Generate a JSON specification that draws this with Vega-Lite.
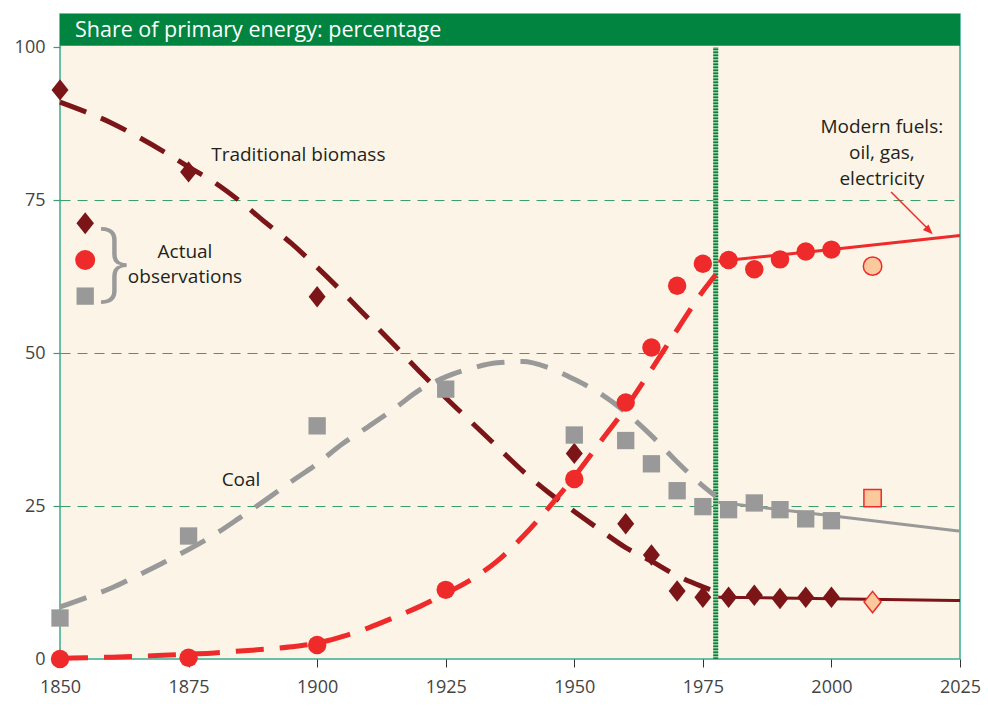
{
  "$schema": "https://vega.github.io/schema/vega-lite/v6.json",
  "width": 900,
  "height": 645,
  "autosize": {"type": "none"},
  "padding": {"left": 60, "top": 14, "right": 28, "bottom": 47},
  "background": "#ffffff",
  "view": {"fill": "#fcf5e7", "stroke": "#36ad93", "strokeWidth": 1.5},
  "config": {"font": "Open Sans", "text": {"font": "Open Sans", "color": "#231f20"}},
  "datasets": {
    "one": [{}],
    "obs": [
      {"series": "biomass", "year": 1850, "value": 93.0},
      {"series": "biomass", "year": 1875, "value": 79.6},
      {"series": "biomass", "year": 1900, "value": 59.2},
      {"series": "biomass", "year": 1950, "value": 33.6},
      {"series": "biomass", "year": 1960, "value": 22.1},
      {"series": "biomass", "year": 1965, "value": 17.0},
      {"series": "biomass", "year": 1970, "value": 11.1},
      {"series": "biomass", "year": 1975, "value": 10.1},
      {"series": "biomass", "year": 1980, "value": 10.1},
      {"series": "biomass", "year": 1985, "value": 10.4},
      {"series": "biomass", "year": 1990, "value": 9.9},
      {"series": "biomass", "year": 1995, "value": 10.1},
      {"series": "biomass", "year": 2000, "value": 10.1},
      {"series": "coal", "year": 1850, "value": 6.7},
      {"series": "coal", "year": 1875, "value": 20.1},
      {"series": "coal", "year": 1900, "value": 38.1},
      {"series": "coal", "year": 1925, "value": 44.1},
      {"series": "coal", "year": 1950, "value": 36.6},
      {"series": "coal", "year": 1960, "value": 35.7},
      {"series": "coal", "year": 1965, "value": 31.9},
      {"series": "coal", "year": 1970, "value": 27.5},
      {"series": "coal", "year": 1975, "value": 24.9},
      {"series": "coal", "year": 1980, "value": 24.4},
      {"series": "coal", "year": 1985, "value": 25.5},
      {"series": "coal", "year": 1990, "value": 24.4},
      {"series": "coal", "year": 1995, "value": 22.9},
      {"series": "coal", "year": 2000, "value": 22.6},
      {"series": "modern", "year": 1850, "value": 0.0},
      {"series": "modern", "year": 1875, "value": 0.2},
      {"series": "modern", "year": 1900, "value": 2.3},
      {"series": "modern", "year": 1925, "value": 11.3},
      {"series": "modern", "year": 1950, "value": 29.4},
      {"series": "modern", "year": 1960, "value": 41.9},
      {"series": "modern", "year": 1965, "value": 50.9},
      {"series": "modern", "year": 1970, "value": 61.0},
      {"series": "modern", "year": 1975, "value": 64.6},
      {"series": "modern", "year": 1980, "value": 65.2},
      {"series": "modern", "year": 1985, "value": 63.7},
      {"series": "modern", "year": 1990, "value": 65.3},
      {"series": "modern", "year": 1995, "value": 66.6},
      {"series": "modern", "year": 2000, "value": 66.9}
    ],
    "proj": [
      {"series": "biomass", "year": 2008, "value": 9.3},
      {"series": "coal", "year": 2008, "value": 26.3},
      {"series": "modern", "year": 2008, "value": 64.2}
    ],
    "fit": [
      {"series": "biomass", "part": "dash", "year": 1850, "value": 91.0},
      {"series": "biomass", "part": "dash", "year": 1855, "value": 89.4},
      {"series": "biomass", "part": "dash", "year": 1860, "value": 87.6},
      {"series": "biomass", "part": "dash", "year": 1865, "value": 85.4},
      {"series": "biomass", "part": "dash", "year": 1870, "value": 83.0},
      {"series": "biomass", "part": "dash", "year": 1875, "value": 80.4},
      {"series": "biomass", "part": "dash", "year": 1880, "value": 77.9},
      {"series": "biomass", "part": "dash", "year": 1885, "value": 74.8},
      {"series": "biomass", "part": "dash", "year": 1890, "value": 71.3},
      {"series": "biomass", "part": "dash", "year": 1895, "value": 67.9},
      {"series": "biomass", "part": "dash", "year": 1900, "value": 64.0},
      {"series": "biomass", "part": "dash", "year": 1905, "value": 59.9},
      {"series": "biomass", "part": "dash", "year": 1910, "value": 55.6},
      {"series": "biomass", "part": "dash", "year": 1915, "value": 51.3},
      {"series": "biomass", "part": "dash", "year": 1920, "value": 46.9},
      {"series": "biomass", "part": "dash", "year": 1925, "value": 42.7},
      {"series": "biomass", "part": "dash", "year": 1930, "value": 38.7},
      {"series": "biomass", "part": "dash", "year": 1935, "value": 34.7},
      {"series": "biomass", "part": "dash", "year": 1940, "value": 30.7},
      {"series": "biomass", "part": "dash", "year": 1945, "value": 27.2},
      {"series": "biomass", "part": "dash", "year": 1950, "value": 24.1},
      {"series": "biomass", "part": "dash", "year": 1955, "value": 21.1},
      {"series": "biomass", "part": "dash", "year": 1960, "value": 18.2},
      {"series": "biomass", "part": "dash", "year": 1965, "value": 16.0},
      {"series": "biomass", "part": "dash", "year": 1970, "value": 13.6},
      {"series": "biomass", "part": "dash", "year": 1975, "value": 11.8},
      {"series": "biomass", "part": "dash", "year": 1977.5, "value": 11.0},
      {"series": "biomass", "part": "solid", "year": 1978, "value": 10.1},
      {"series": "biomass", "part": "solid", "year": 2000, "value": 9.85},
      {"series": "biomass", "part": "solid", "year": 2025, "value": 9.55},
      {"series": "coal", "part": "dash", "year": 1850, "value": 8.5},
      {"series": "coal", "part": "dash", "year": 1855, "value": 10.0},
      {"series": "coal", "part": "dash", "year": 1860, "value": 11.6},
      {"series": "coal", "part": "dash", "year": 1865, "value": 13.6},
      {"series": "coal", "part": "dash", "year": 1870, "value": 15.7},
      {"series": "coal", "part": "dash", "year": 1875, "value": 17.9},
      {"series": "coal", "part": "dash", "year": 1880, "value": 20.3},
      {"series": "coal", "part": "dash", "year": 1885, "value": 23.1},
      {"series": "coal", "part": "dash", "year": 1890, "value": 26.0},
      {"series": "coal", "part": "dash", "year": 1895, "value": 29.0},
      {"series": "coal", "part": "dash", "year": 1900, "value": 31.9},
      {"series": "coal", "part": "dash", "year": 1905, "value": 35.2},
      {"series": "coal", "part": "dash", "year": 1910, "value": 38.0},
      {"series": "coal", "part": "dash", "year": 1915, "value": 40.9},
      {"series": "coal", "part": "dash", "year": 1920, "value": 44.0},
      {"series": "coal", "part": "dash", "year": 1925, "value": 46.1},
      {"series": "coal", "part": "dash", "year": 1930, "value": 47.5},
      {"series": "coal", "part": "dash", "year": 1935, "value": 48.4},
      {"series": "coal", "part": "dash", "year": 1940, "value": 48.6},
      {"series": "coal", "part": "dash", "year": 1945, "value": 47.6},
      {"series": "coal", "part": "dash", "year": 1950, "value": 45.7},
      {"series": "coal", "part": "dash", "year": 1955, "value": 43.4},
      {"series": "coal", "part": "dash", "year": 1960, "value": 40.3},
      {"series": "coal", "part": "dash", "year": 1965, "value": 36.5},
      {"series": "coal", "part": "dash", "year": 1970, "value": 32.2},
      {"series": "coal", "part": "dash", "year": 1975, "value": 28.3},
      {"series": "coal", "part": "dash", "year": 1977.5, "value": 26.6},
      {"series": "coal", "part": "solid", "year": 1978, "value": 25.6},
      {"series": "coal", "part": "solid", "year": 2000, "value": 23.4},
      {"series": "coal", "part": "solid", "year": 2025, "value": 20.9},
      {"series": "modern", "part": "dash", "year": 1850, "value": 0.1},
      {"series": "modern", "part": "dash", "year": 1855, "value": 0.2},
      {"series": "modern", "part": "dash", "year": 1860, "value": 0.3},
      {"series": "modern", "part": "dash", "year": 1865, "value": 0.45},
      {"series": "modern", "part": "dash", "year": 1870, "value": 0.6},
      {"series": "modern", "part": "dash", "year": 1875, "value": 0.8},
      {"series": "modern", "part": "dash", "year": 1880, "value": 1.0},
      {"series": "modern", "part": "dash", "year": 1885, "value": 1.3},
      {"series": "modern", "part": "dash", "year": 1890, "value": 1.6},
      {"series": "modern", "part": "dash", "year": 1895, "value": 2.0},
      {"series": "modern", "part": "dash", "year": 1900, "value": 2.6},
      {"series": "modern", "part": "dash", "year": 1905, "value": 3.7},
      {"series": "modern", "part": "dash", "year": 1910, "value": 5.1},
      {"series": "modern", "part": "dash", "year": 1915, "value": 6.8},
      {"series": "modern", "part": "dash", "year": 1920, "value": 8.6},
      {"series": "modern", "part": "dash", "year": 1925, "value": 10.7},
      {"series": "modern", "part": "dash", "year": 1930, "value": 13.0},
      {"series": "modern", "part": "dash", "year": 1935, "value": 16.0},
      {"series": "modern", "part": "dash", "year": 1940, "value": 20.0},
      {"series": "modern", "part": "dash", "year": 1945, "value": 24.7},
      {"series": "modern", "part": "dash", "year": 1950, "value": 29.8},
      {"series": "modern", "part": "dash", "year": 1955, "value": 35.4},
      {"series": "modern", "part": "dash", "year": 1960, "value": 41.0},
      {"series": "modern", "part": "dash", "year": 1965, "value": 47.3},
      {"series": "modern", "part": "dash", "year": 1970, "value": 53.8},
      {"series": "modern", "part": "dash", "year": 1975, "value": 60.1},
      {"series": "modern", "part": "dash", "year": 1977.5, "value": 62.8},
      {"series": "modern", "part": "solid", "year": 1978, "value": 65.0},
      {"series": "modern", "part": "solid", "year": 2000, "value": 66.9},
      {"series": "modern", "part": "solid", "year": 2025, "value": 69.2}
    ]
  },
  "encoding": {
    "x": {
      "type": "quantitative",
      "scale": {"domain": [1850, 2025], "nice": false, "zero": false},
      "axis": {
        "title": null, "values": [1850, 1875, 1900, 1925, 1950, 1975, 2000, 2025],
        "format": "d", "grid": false, "domain": false, "labelFlush": false, "labelOverlap": false,
        "tickColor": "#333333", "tickSize": 8, "tickWidth": 1,
        "labelFont": "Open Sans", "labelFontSize": 18, "labelColor": "#444444", "labelPadding": 11
      }
    },
    "y": {
      "type": "quantitative",
      "scale": {"domain": [0, 105.4], "nice": false},
      "axis": {
        "title": null, "values": [0, 25, 50, 75, 100], "domain": false,
        "grid": true, "gridColor": "#3aa06a", "gridDash": [10, 7], "gridWidth": 1.2,
        "gridOpacity": {"condition": {"test": "datum.value == 0 || datum.value == 100", "value": 0}, "value": 1},
        "tickColor": "#3aa06a", "tickSize": 7, "tickWidth": 1.2,
        "labelFont": "Open Sans", "labelFontSize": 18, "labelColor": "#444444", "labelPadding": 8
      }
    }
  },
  "layer": [
    {
      "data": {"name": "one"},
      "mark": {"type": "rect", "color": "#00843f"},
      "encoding": {"x": {"datum": 1850}, "x2": {"datum": 2025}, "y": {"datum": 100.2}, "y2": {"datum": 105.4}}
    },
    {
      "data": {"name": "one"},
      "mark": {"type": "text", "text": "Share of primary energy: percentage", "align": "left", "baseline": "middle", "dx": 15, "fontSize": 21.5, "color": "#ffffff"},
      "encoding": {"x": {"datum": 1850}, "y": {"datum": 102.65}}
    },
    {
      "data": {"name": "one"},
      "mark": {"type": "rule", "color": "#8fd09f", "strokeWidth": 5},
      "encoding": {"x": {"datum": 1977.5}, "y": {"datum": 0}, "y2": {"datum": 100}}
    },
    {
      "data": {"name": "one"},
      "mark": {"type": "rule", "color": "#0f7d3c", "strokeWidth": 5, "strokeDash": [1.5, 1.5]},
      "encoding": {"x": {"datum": 1977.5}, "y": {"datum": 0}, "y2": {"datum": 100}}
    },
    {
      "data": {"name": "fit"},
      "transform": [{"filter": "datum.part == 'dash'"}],
      "mark": {"type": "line", "strokeWidth": 5, "strokeDash": [28, 16], "interpolate": "monotone"},
      "encoding": {
        "x": {"field": "year", "type": "quantitative"},
        "y": {"field": "value", "type": "quantitative"},
        "color": {"field": "series", "type": "nominal", "legend": null,
          "scale": {"domain": ["coal", "biomass", "modern"], "range": ["#999999", "#7b1518", "#ee2a2a"]}}
      }
    },
    {
      "data": {"name": "fit"},
      "transform": [{"filter": "datum.part == 'solid'"}],
      "mark": {"type": "line", "strokeWidth": 3, "interpolate": "monotone"},
      "encoding": {
        "x": {"field": "year", "type": "quantitative"},
        "y": {"field": "value", "type": "quantitative"},
        "color": {"field": "series", "type": "nominal", "legend": null,
          "scale": {"domain": ["coal", "biomass", "modern"], "range": ["#999999", "#7b1518", "#ee2a2a"]}}
      }
    },
    {
      "data": {"name": "obs"},
      "mark": {"type": "point", "filled": true, "opacity": 1},
      "encoding": {
        "x": {"field": "year", "type": "quantitative"},
        "y": {"field": "value", "type": "quantitative"},
        "color": {"field": "series", "type": "nominal", "legend": null,
          "scale": {"domain": ["coal", "biomass", "modern"], "range": ["#999999", "#7b1518", "#ee2a2a"]}},
        "shape": {"field": "series", "type": "nominal", "legend": null,
          "scale": {"domain": ["coal", "biomass", "modern"], "range": ["square", "M0,-1.2L0.95,0L0,1.2L-0.95,0Z", "circle"]}},
        "size": {"field": "series", "type": "nominal", "legend": null,
          "scale": {"domain": ["coal", "biomass", "modern"], "range": [300, 340, 420]}}
      }
    },
    {
      "data": {"name": "proj"},
      "mark": {"type": "point", "filled": true, "opacity": 1, "fill": "#fcc99c", "stroke": "#ee2a2a", "strokeWidth": 1.5},
      "encoding": {
        "x": {"field": "year", "type": "quantitative"},
        "y": {"field": "value", "type": "quantitative"},
        "shape": {"field": "series", "type": "nominal", "legend": null,
          "scale": {"domain": ["coal", "biomass", "modern"], "range": ["square", "M0,-1.5L0.95,0L0,1.5L-0.95,0Z", "circle"]}},
        "size": {"field": "series", "type": "nominal", "legend": null,
          "scale": {"domain": ["coal", "biomass", "modern"], "range": [300, 320, 380]}}
      }
    },
    {
      "data": {"name": "one"},
      "mark": {"type": "point", "filled": true, "opacity": 1, "color": "#7b1518", "shape": "M0,-1.2L0.95,0L0,1.2L-0.95,0Z", "size": 340},
      "encoding": {"x": {"datum": 1854.9}, "y": {"datum": 71.2}}
    },
    {
      "data": {"name": "one"},
      "mark": {"type": "point", "filled": true, "opacity": 1, "color": "#ee2a2a", "shape": "circle", "size": 400},
      "encoding": {"x": {"datum": 1854.9}, "y": {"datum": 65.2}}
    },
    {
      "data": {"name": "one"},
      "mark": {"type": "point", "filled": true, "opacity": 1, "color": "#999999", "shape": "square", "size": 300},
      "encoding": {"x": {"datum": 1854.9}, "y": {"datum": 59.3}}
    },
    {
      "data": {"name": "one"},
      "mark": {"type": "text", "text": "}", "align": "center", "baseline": "middle", "fontSize": 88, "fontWeight": 300, "color": "#9a9a9a"},
      "encoding": {"x": {"datum": 1860.4}, "y": {"datum": 64.6}}
    },
    {
      "data": {"name": "one"},
      "mark": {"type": "text", "text": ["Actual", "observations"], "align": "center", "baseline": "middle", "fontSize": 19, "lineHeight": 25},
      "encoding": {"x": {"datum": 1874.3}, "y": {"datum": 66.5}}
    },
    {
      "data": {"name": "one"},
      "mark": {"type": "text", "text": "Traditional biomass", "align": "left", "baseline": "middle", "fontSize": 19},
      "encoding": {"x": {"datum": 1879.4}, "y": {"datum": 82.4}}
    },
    {
      "data": {"name": "one"},
      "mark": {"type": "text", "text": "Coal", "align": "center", "baseline": "middle", "fontSize": 19},
      "encoding": {"x": {"datum": 1885.2}, "y": {"datum": 29.2}}
    },
    {
      "data": {"name": "one"},
      "mark": {"type": "text", "text": ["Modern fuels:", "oil, gas,", "electricity"], "align": "center", "baseline": "middle", "fontSize": 19, "lineHeight": 26},
      "encoding": {"x": {"datum": 2009.8}, "y": {"datum": 86.9}}
    },
    {
      "data": {"name": "one"},
      "mark": {"type": "rule", "color": "#ee2a2a", "strokeWidth": 1.5},
      "encoding": {"x": {"datum": 2011.6}, "y": {"datum": 76.3}, "x2": {"datum": 2018.5}, "y2": {"datum": 70.5}}
    },
    {
      "data": {"name": "one"},
      "mark": {"type": "point", "filled": true, "opacity": 1, "color": "#ee2a2a", "shape": "M0,0L-2,-0.8L-2,0.8Z", "size": 100, "angle": 45},
      "encoding": {"x": {"datum": 2019.7}, "y": {"datum": 69.4}}
    }
  ]
}
